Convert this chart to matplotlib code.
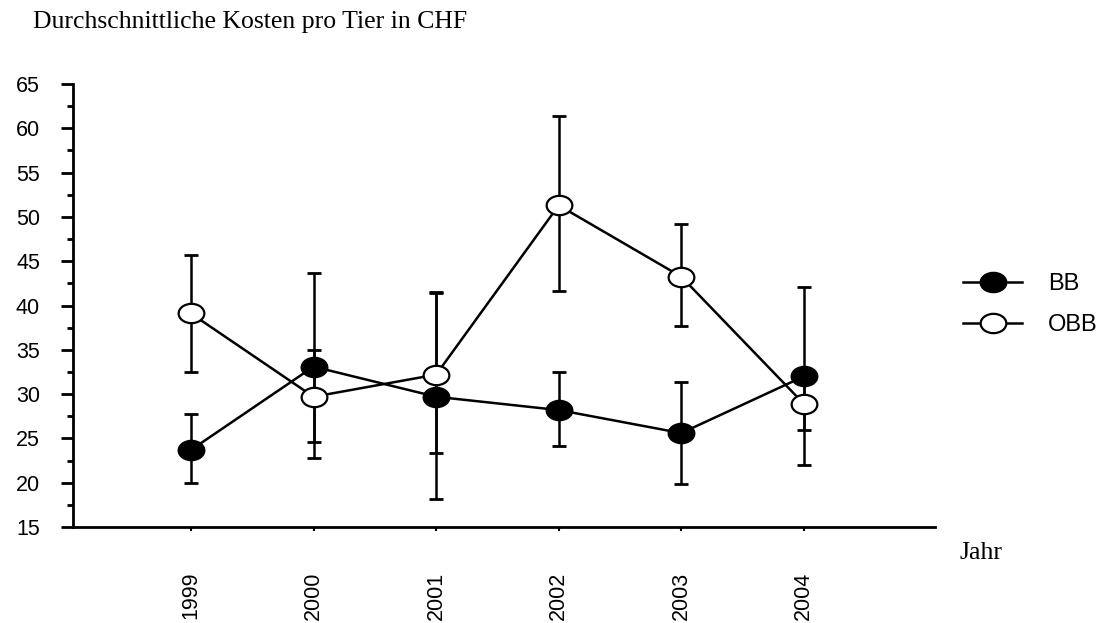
import numpy as np
import matplotlib
matplotlib.use('Agg')
import matplotlib.pyplot as plt
import matplotlib.ticker as tk
from matplotlib.path import Path
from matplotlib.transforms import Affine2D
from matplotlib.lines import Line2D

# Years and mean cost per animal (CHF) with lower / upper error limits
years = ['1999', '2000', '2001', '2002', '2003', '2004']
bb_mean = [23.7, 33.1, 29.7, 28.2, 25.6, 32.0]
bb_low = [20.0, 24.6, 18.2, 24.1, 19.9, 22.0]
bb_high = [27.75, 43.7, 41.4, 32.5, 31.4, 42.05]
obb_mean = [39.1, 29.7, 32.2, 51.3, 43.25, 28.9]
obb_low = [32.5, 22.8, 23.3, 41.6, 37.7, 25.9]
obb_high = [45.7, 35.0, 41.5, 61.4, 49.2, 31.9]

x = np.arange(len(years))

# elliptical marker, wider than tall
ell = Path.unit_circle().transformed(Affine2D().scale(1.33, 1.0))

fig = plt.figure(figsize=(11.04, 6.23), dpi=100)
ax = fig.add_axes([72.7/1104, 96/623, (935-72.7)/1104, (527-84)/623])

lw = 1.8
ms = 18.5
for mean, low, high in [(bb_mean, bb_low, bb_high), (obb_mean, obb_low, obb_high)]:
    mean = np.array(mean)
    yerr = [mean - np.array(low), np.array(high) - mean]
    ax.errorbar(x, mean, yerr=yerr, fmt='none', ecolor='k', elinewidth=lw,
                capsize=5, capthick=2, zorder=2, clip_on=False)
for mean in [bb_mean, obb_mean]:
    ax.plot(x, mean, color='k', lw=lw, zorder=3, clip_on=False)
for mean, fc in [(bb_mean, 'k'), (obb_mean, 'w')]:
    ax.plot(x, mean, ls='none', marker=ell, ms=ms, mfc=fc, mec='k', mew=1.6,
            zorder=4, clip_on=False)

ax.set_xlim(-0.965, 6.07)
ax.set_ylim(15, 65)
ax.set_xticks(x)
ax.set_xticklabels(years, rotation=90, fontsize=15.5, family='Liberation Sans')
ax.yaxis.set_major_locator(tk.MultipleLocator(5))
ax.yaxis.set_minor_locator(tk.MultipleLocator(2.5))
for lab in ax.get_yticklabels():
    lab.set_fontsize(15.5)
    lab.set_family('Liberation Sans')
ax.tick_params(axis='y', which='major', length=8.6, width=2, pad=15)
ax.tick_params(axis='y', which='minor', length=4.3, width=2)
ax.tick_params(axis='x', which='major', length=3, width=1.5, pad=29)
ax.spines['top'].set_visible(False)
ax.spines['right'].set_visible(False)
ax.spines['left'].set_linewidth(2)
ax.spines['bottom'].set_linewidth(2)

fig.text(33/1104, 1 - 22/623, 'Durchschnittliche Kosten pro Tier in CHF', ha='left', va='center',
         fontsize=18.5, family='Liberation Serif')
fig.text(960/1104, 1 - 553/623, 'Jahr', ha='left', va='center',
         fontsize=18.5, family='Liberation Serif')

handles = [Line2D([], [], color='k', lw=lw, marker=ell, ms=ms, mfc='k', mec='k', mew=1.6),
           Line2D([], [], color='k', lw=lw, marker=ell, ms=ms, mfc='w', mec='k', mew=1.6)]
fig.legend(handles, ['BB', 'OBB'], loc='center left', bbox_to_anchor=(963/1104, 1 - 304.5/623),
           frameon=False, borderpad=0, borderaxespad=0, handlelength=2.5, handletextpad=1.1,
           labelspacing=0.8, prop={'family': 'Liberation Sans', 'size': 17})

plt.savefig('out.png', dpi=100)
